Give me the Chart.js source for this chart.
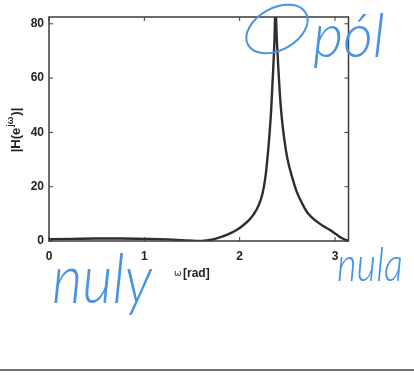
<!DOCTYPE html>
<html>
<head>
<meta charset="utf-8">
<script src="https://cdn.jsdelivr.net/npm/chart.js@4/dist/chart.umd.min.js"></script>
<style>
  html, body { margin: 0; padding: 0; background: #fff; }
  #wrap { width: 414px; height: 382px; }
</style>
</head>
<body>
<div id="wrap"><canvas id="chart" width="414" height="382"></canvas></div>
<script>
// frequency axis (rad) and magnitude
const omega = [0, 0.25, 0.5, 0.75, 1.0, 1.25, 1.4, 1.55, 1.65, 1.72, 1.8, 1.9, 1.98, 2.04, 2.1, 2.15, 2.2,
  2.24, 2.27, 2.29, 2.31, 2.33, 2.35, 2.365, 2.375, 2.39, 2.405, 2.42, 2.44, 2.47, 2.5, 2.55, 2.6, 2.66,
  2.72, 2.8, 2.88, 2.95, 3.02, 3.08, 3.1416];
const magnitude = [0.7, 0.8, 0.9, 0.9, 0.8, 0.6, 0.3, 0.0, 0.2, 0.6, 1.4, 2.8, 4.3, 5.9, 7.8, 10, 13.2,
  17.5, 23.5, 30, 38, 48, 62, 74, 86, 74, 64, 55, 46, 37, 30.5, 23.5, 18, 13.5,
  10, 7.4, 5.4, 4, 2.3, 0.9, 0];

const xTicks = [0, 1, 2, 3];
const yTicks = [0, 20, 40, 60, 80];

// handwritten notes on the scan
const notePole = 'pól';
const noteZeros = 'nuly';
const noteZero = 'nula';

const ink = '#4a92e4';
const frameColor = '#3a3a3a';

// box round the plot with inward ticks on all four sides (matlab style)
const framePlugin = {
  id: 'frame',
  afterDraw(chart) {
    const { ctx, chartArea: a, scales } = chart;
    ctx.save();
    ctx.strokeStyle = frameColor;
    ctx.lineWidth = 1.5;
    ctx.strokeRect(a.left, a.top, a.right - a.left, a.bottom - a.top);
    ctx.lineWidth = 1;
    ctx.beginPath();
    xTicks.forEach(v => {
      const x = scales.x.getPixelForValue(v);
      ctx.moveTo(x, a.bottom); ctx.lineTo(x, a.bottom - 4);
      ctx.moveTo(x, a.top); ctx.lineTo(x, a.top + 4);
    });
    yTicks.forEach(v => {
      const y = scales.y.getPixelForValue(v);
      ctx.moveTo(a.left, y); ctx.lineTo(a.left + 4, y);
      ctx.moveTo(a.right, y); ctx.lineTo(a.right - 4, y);
    });
    ctx.stroke();
    ctx.restore();
  }
};

// axis titles (y one needs a superscript) and the pen notes
const textPlugin = {
  id: 'notes',
  afterDraw(chart) {
    const { ctx, chartArea: a } = chart;
    ctx.save();
    ctx.fillStyle = '#222';

    // y title |H(e^jω)|
    ctx.translate(16, (a.top + a.bottom) / 2 + 1);
    ctx.rotate(-Math.PI / 2);
    const big = 'bold 13px "Liberation Sans"';
    const small = 'bold 9px "Liberation Sans"';
    ctx.font = big;
    const w1 = ctx.measureText('|H(e').width;
    const w3 = ctx.measureText(')|').width;
    ctx.font = small;
    const w2 = ctx.measureText('jω').width + 2;
    let x = -(w1 + w2 + w3) / 2;
    ctx.textBaseline = 'middle';
    ctx.font = big;
    ctx.fillText('|H(e', x, 0);
    ctx.font = small;
    ctx.fillText('jω', x + w1 + 1, -5);
    ctx.font = big;
    ctx.fillText(')|', x + w1 + w2, 0);
    ctx.restore();

    // x title
    ctx.save();
    ctx.fillStyle = '#222';
    ctx.textBaseline = 'alphabetic';
    ctx.font = '9px "DejaVu Sans"';
    ctx.fillText('ω', 174, 276);
    ctx.font = 'bold 12px "Liberation Sans"';
    ctx.fillText('[rad]', 183, 277);
    ctx.restore();

    // pen marks
    ctx.save();
    ctx.strokeStyle = ink;
    ctx.lineWidth = 2;
    ctx.beginPath();
    ctx.ellipse(277, 29, 33, 21, -0.5, 0, Math.PI * 2);
    ctx.stroke();
    hand(ctx, notePole, 313, 57, 62, 72);
    hand(ctx, noteZeros, 52, 303, 70, 100);
    hand(ctx, noteZero, 337, 281, 48, 66);
    ctx.restore();

    // edge of the scanned page
    ctx.save();
    ctx.strokeStyle = '#444';
    ctx.lineWidth = 1.5;
    ctx.beginPath();
    ctx.moveTo(0, 370); ctx.lineTo(414, 370);
    ctx.stroke();
    ctx.restore();
  }
};

function hand(ctx, text, x, base, size, width) {
  ctx.save();
  ctx.font = `italic 300 ${size}px Lato`;
  const m = ctx.measureText(text).width;
  ctx.translate(x, base);
  ctx.scale(width / m, 1);
  ctx.fillStyle = ink;
  ctx.fillText(text, 0, 0);
  ctx.restore();
}

new Chart(document.getElementById('chart'), {
  type: 'line',
  data: {
    datasets: [{
      data: omega.map((w, i) => ({ x: w, y: magnitude[i] })),
      borderColor: '#2e2e2e',
      borderWidth: 2.4,
      pointRadius: 0,
      fill: false,
      cubicInterpolationMode: 'monotone'
    }]
  },
  options: {
    responsive: false,
    animation: false,
    devicePixelRatio: 1,
    layout: { padding: { left: 0, top: 17, right: 65.5, bottom: 0 } },
    plugins: { legend: { display: false }, tooltip: { enabled: false } },
    scales: {
      x: {
        type: 'linear',
        min: 0,
        max: Math.PI,
        grid: { display: false, drawTicks: false },
        border: { display: false },
        afterBuildTicks: s => { s.ticks = xTicks.map(v => ({ value: v })); },
        afterFit: s => { s.height = 141; },
        ticks: {
          padding: 8,
          maxRotation: 0,
          color: '#222',
          font: { family: 'Liberation Sans', size: 12, weight: 'bold' }
        }
      },
      y: {
        min: 0,
        max: 82.5,
        grid: { display: false, drawTicks: false },
        border: { display: false },
        afterBuildTicks: s => { s.ticks = yTicks.map(v => ({ value: v })); },
        afterFit: s => { s.width = 49; },
        ticks: {
          padding: 5,
          color: '#222',
          font: { family: 'Liberation Sans', size: 12, weight: 'bold' }
        }
      }
    }
  },
  plugins: [framePlugin, textPlugin]
});
</script>
</body>
</html>
